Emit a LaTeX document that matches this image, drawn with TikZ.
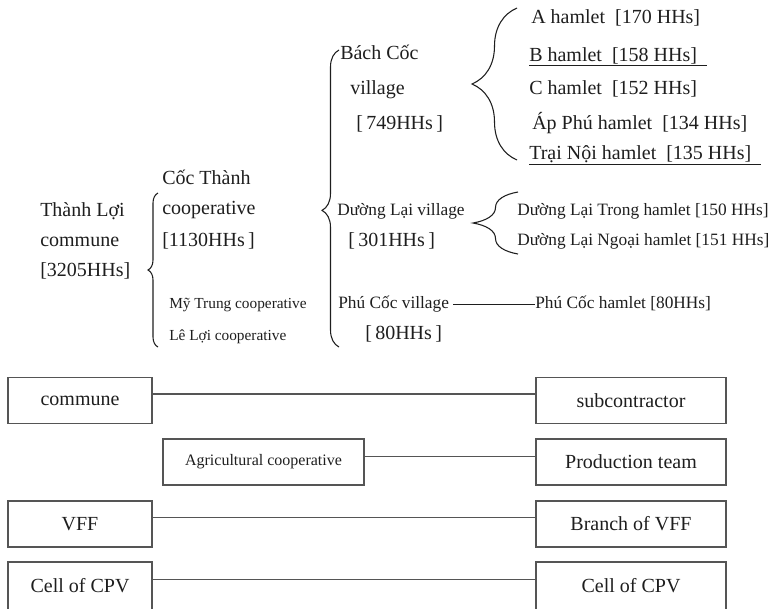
\documentclass[tikz,border=0pt]{standalone}
\usepackage{fontspec}
\setmainfont{Liberation Serif}
\usetikzlibrary{decorations.pathreplacing}

\definecolor{ink}{HTML}{1E1E1E}
\definecolor{rulegray}{HTML}{555555}

\tikzset{
  lbl/.style={anchor=base west, inner sep=0pt, text=ink, font=\fontsize{15}{18}\selectfont},
  sml/.style={lbl, font=\fontsize{13}{16}\selectfont},
  note/.style={lbl, font=\fontsize{11.5}{14}\selectfont},
  box/.style={draw=rulegray, line width=1pt, text=ink, font=\fontsize{15}{18}\selectfont,
              minimum height=34.5pt, inner sep=2pt},
  lbox/.style={box, minimum width=108pt},
  rbox/.style={box, minimum width=142.5pt},
  link/.style={draw=rulegray, line width=1.1pt},
  curly/.style={draw=ink, line width=0.8pt, decorate, decoration={brace, amplitude=#1}},
}

\begin{document}
\begin{tikzpicture}[x=0.75pt, y=-0.75pt]
                \useasboundingbox (0,0) rectangle (770,608);

                % commune and cooperatives
                \node[lbl] (tl1) at (40,216)  {Thành Lợi};
                \node[lbl] (tl2) at (40,246)  {commune};
                \node[lbl] (tl3) at (40,276)  {[3205HHs]};

                \node[lbl]  (ct1) at (162,184) {Cốc Thành};
                \node[lbl]  (ct2) at (162,214) {cooperative};
                \node[lbl]  (ct3) at (162,246) {[1130HHs\,]};
                \node[note] (mt)  at (169,308) {Mỹ Trung cooperative};
                \node[note] (ll)  at (169,340) {Lê Lợi cooperative};

                % villages
                \node[lbl] (bc1) at (340,59)  {Bách Cốc};
                \node[lbl] (bc2) at (350,94)  {village};
                \node[lbl] (bc3) at (356,129) {[\,749HHs\,]};

                \node[sml] (dl1) at (337,215) {Dường Lại village};
                \node[lbl] (dl2) at (348,246) {[\,301HHs\,]};

                \node[sml] (pc1) at (338,308) {Phú Cốc village};
                \node[lbl] (pc2) at (365,339) {[\,80HHs\,]};

                % hamlets
                \node[lbl] (hA) at (531,23)  {A hamlet\enspace[170 HHs]};
                \node[lbl] (hB) at (529,61)  {\underline{B hamlet\enspace[158 HHs]\enspace}};
                \node[lbl] (hC) at (529,94)  {C hamlet\enspace[152 HHs]};
                \node[lbl] (hD) at (532,129) {Áp Phú hamlet\enspace[134 HHs]};
                \node[lbl] (hE) at (529,159) {\underline{Trại Nội hamlet\enspace[135 HHs]\enspace}};

                \node[sml] (dlt) at (517,215) {Dường Lại Trong hamlet [150 HHs]};
                \node[sml] (dln) at (517,245) {Dường Lại Ngoại hamlet [151 HHs]};
                \node[sml] (pch) at (535,308) {Phú Cốc hamlet [80HHs]};

                % brace ends
                \coordinate (b1bot) at (158,347);
                \coordinate (b1top) at (158,193);
                \coordinate (b2bot) at (339,347);
                \coordinate (b2top) at (339,50);
                \coordinate (b3bot) at (517,160);
                \coordinate (b3top) at (517,8);
                \coordinate (b4bot) at (518,254);
                \coordinate (b4top) at (518,192);

                \draw[curly=7.5pt]  (b1bot) -- (b1top);
                \draw[draw=ink, line width=0.8pt, decorate,
                      decoration={brace, amplitude=12.75pt, aspect=0.46}] (b2bot) -- (b2top);
                \draw[curly=33.75pt] (b3bot) -- (b3top);
                \draw[curly=33.75pt] (b4bot) -- (b4top);

                \draw[ink, line width=0.8pt] ([xshift=3pt]pc1.mid east) -- (pch.mid west);

                % organisations
                \node[lbox] (commune) at (80,400.5)  {commune};
                \node[rbox] (subc)    at (631,400.5) {subcontractor};
                \node[box, minimum width=150.75pt, font=\fontsize{12}{14}\selectfont]
                            (agri)    at (263.5,462) {Agricultural cooperative};
                \node[rbox] (prod)    at (631,462)   {Production team};
                \node[lbox] (vff)     at (80,524)    {VFF};
                \node[rbox] (bvff)    at (631,524)   {Branch of VFF};
                \node[lbox, minimum height=36pt] (cpv)  at (80,586)  {Cell of CPV};
                \node[rbox, minimum height=36pt] (ccpv) at (631,586) {Cell of CPV};

                \path[link]
                ([yshift=5pt]commune.east) edge ([yshift=5pt]subc.west)
                ([yshift=4pt]agri.east)    edge ([yshift=4pt]prod.west)
                ([yshift=5pt]vff.east)     edge ([yshift=5pt]bvff.west)
                ([yshift=5pt]cpv.east)     edge ([yshift=5pt]ccpv.west);
\end{tikzpicture}
\end{document}
